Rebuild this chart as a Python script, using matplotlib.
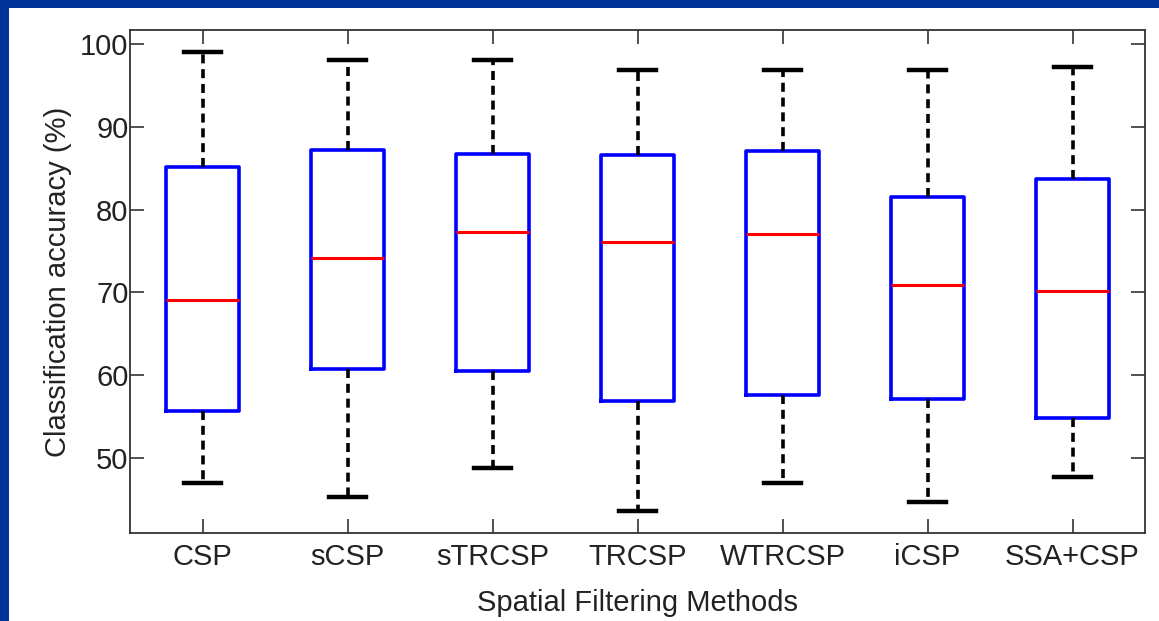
import matplotlib
matplotlib.use("Agg")
import matplotlib.pyplot as plt
from matplotlib.patches import Rectangle

methods = ["CSP", "sCSP", "sTRCSP", "TRCSP", "WTRCSP", "iCSP", "SSA+CSP"]
whisker_low = [47.0, 45.3, 48.7, 43.6, 47.0, 44.6, 47.7]
q1 = [55.7, 60.7, 60.5, 56.9, 57.6, 57.1, 54.8]
medians = [69.1, 74.2, 77.3, 76.1, 77.1, 70.9, 70.2]
q3 = [85.1, 87.2, 86.7, 86.6, 87.1, 81.5, 83.7]
whisker_high = [99.0, 98.1, 98.1, 96.9, 96.9, 96.9, 97.2]
yticks = [50, 60, 70, 80, 90, 100]

plt.rcParams['font.family'] = ['Liberation Sans', 'DejaVu Sans']

W, H = 1159, 621
fig = plt.figure(figsize=(W / 100, H / 100), dpi=100, facecolor="white")
# blue frame strips (top and left)
blue = "#003399"
fig.patches.append(Rectangle((0, 1 - 8 / H), 1, 8 / H, transform=fig.transFigure,
                             facecolor=blue, edgecolor="none", zorder=0))
fig.patches.append(Rectangle((0, 0), 9 / W, 1, transform=fig.transFigure,
                             facecolor=blue, edgecolor="none", zorder=0))

left, right, top, bottom = 130, 1145, 30, 533
ax = fig.add_axes([left / W, 1 - bottom / H, (right - left) / W, (bottom - top) / H])

stats = []
for i, m in enumerate(methods):
    stats.append(dict(label=m, whislo=whisker_low[i], q1=q1[i], med=medians[i],
                      q3=q3[i], whishi=whisker_high[i], fliers=[]))

ax.bxp(stats, positions=range(1, len(methods) + 1), widths=0.5, capwidths=0.26,
       showfliers=False,
       boxprops=dict(color="#0000ff", linewidth=2.6),
       medianprops=dict(color="#ff0000", linewidth=2.2),
       whiskerprops=dict(color="black", linewidth=2.6, linestyle=(0, (2.5, 1.6))),
       capprops=dict(color="black", linewidth=3.2))

ax.set_xlim(0.5, 7.5)
ax.set_ylim(40.9, 101.7)
ax.set_yticks(yticks)
ax.set_xticks(range(1, len(methods) + 1))
ax.set_xticklabels(methods)
ax.tick_params(direction="in", length=10, width=1.2, top=True, right=True,
               labelsize=21, colors="#333333", labelcolor="#222222")
ax.tick_params(axis="x", pad=7)
ax.tick_params(axis="y", pad=1)
for s in ax.spines.values():
    s.set_color("#333333")
    s.set_linewidth(1.3)

ax.set_xlabel("Spatial Filtering Methods", fontsize=21, color="#222222", labelpad=13)
ax.set_ylabel("Classification accuracy (%)", fontsize=21, color="#222222", labelpad=6)

fig.savefig("out.png", dpi=100, facecolor="white")
